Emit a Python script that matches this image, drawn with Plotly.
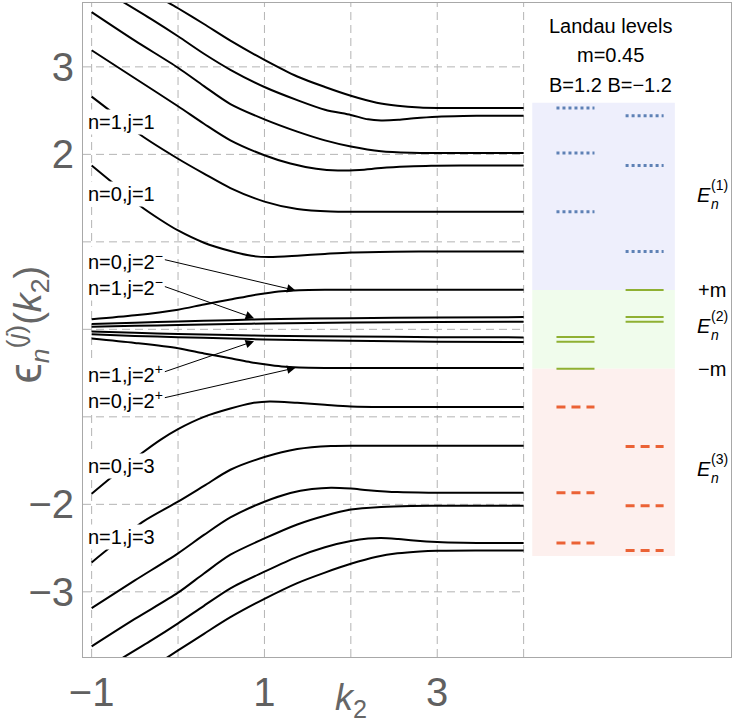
import plotly.graph_objects as go

# ---------------------------------------------------------------------------
# Dispersion branches eps_n^(j)(k2), sampled on k2 in [-1, 4]
# ---------------------------------------------------------------------------
# j = 1 band (upper branches, top to bottom)
k_u1 = [-0.14, 0.0, 0.3, 0.606, 1.0, 1.38, 1.7, 2.0, 2.3, 2.54, 2.8, 3.0, 3.5, 4.0]
e_u1 = [3.75, 3.67, 3.49, 3.30, 3.08, 2.89, 2.77, 2.67, 2.59, 2.555, 2.535, 2.53, 2.529, 2.529]

k_u2 = [-0.65, -0.3, 0.0, 0.3, 0.606, 1.0, 1.38, 1.7, 2.0, 2.2, 2.35, 2.55, 2.73, 3.0, 3.3, 3.6, 4.0]
e_u2 = [3.75, 3.54, 3.35, 3.15, 2.967, 2.77, 2.62, 2.51, 2.45, 2.40, 2.388, 2.395, 2.412, 2.43, 2.438, 2.441, 2.441]

k_u3 = [-1.0, -0.5, 0.0, 0.3, 0.606, 1.0, 1.38, 1.7, 2.0, 2.35, 2.7, 3.0, 4.0]
e_u3 = [3.626, 3.30, 2.99, 2.78, 2.575, 2.40, 2.26, 2.16, 2.09, 2.035, 2.018, 2.015, 2.015]

k_u4 = [-1.0, -0.5, 0.0, 0.3, 0.606, 1.0, 1.3, 1.6, 1.85, 2.1, 2.35, 2.65, 2.93, 3.3, 4.0]
e_u4 = [3.19, 2.87, 2.55, 2.35, 2.16, 1.99, 1.895, 1.835, 1.815, 1.822, 1.843, 1.86, 1.87, 1.873, 1.873]

# n=1, j=1
k_u5 = [-1.0, -0.75, -0.437, 0.0, 0.3, 0.606, 1.0, 1.38, 1.77, 2.2, 4.0]
e_u5 = [2.66, 2.47, 2.224, 1.95, 1.78, 1.615, 1.46, 1.375, 1.346, 1.344, 1.344]

# n=0, j=1
k_u6 = [-1.0, -0.75, -0.437, -0.2, 0.0, 0.3, 0.606, 0.85, 1.05, 1.38, 1.7, 2.0, 2.5, 3.0, 4.0]
e_u6 = [1.873, 1.67, 1.41, 1.25, 1.13, 0.99, 0.895, 0.840, 0.826, 0.841, 0.862, 0.879, 0.888, 0.89, 0.890]

# j = 2 band (near zero energy)
k_m0 = [-1.0, -0.5, 0.0, 0.3, 0.606, 0.84, 1.0, 1.2, 1.4, 1.7, 2.0, 4.0]
e_p0 = [0.115, 0.16, 0.225, 0.285, 0.34, 0.385, 0.41, 0.435, 0.447, 0.452, 0.453, 0.453]   # n=0, j=2-
e_n0 = [-0.105, -0.155, -0.215, -0.275, -0.33, -0.375, -0.40, -0.425, -0.437, -0.442, -0.443, -0.443]  # n=0, j=2+

k_m1 = [-1.0, -0.5, 0.0, 0.606, 1.0, 2.0, 3.0, 4.0]
e_p1 = [0.06, 0.075, 0.09, 0.105, 0.115, 0.128, 0.136, 0.14]          # n=1, j=2-
e_p2 = [0.03, 0.04, 0.05, 0.06, 0.067, 0.077, 0.084, 0.087]
e_n2 = [-0.025, -0.04, -0.052, -0.065, -0.072, -0.082, -0.089, -0.092]
e_n1 = [-0.055, -0.075, -0.09, -0.105, -0.115, -0.13, -0.141, -0.146]  # n=1, j=2+

# j = 3 band (lower branches)
k_l6 = [-1.0, -0.77, -0.417, -0.2, 0.0, 0.3, 0.606, 0.85, 1.06, 1.38, 1.7, 2.0, 2.5, 4.0]
e_l6 = [-1.879, -1.69, -1.414, -1.26, -1.14, -1.0, -0.905, -0.845, -0.824, -0.84, -0.862, -0.881, -0.888, -0.888]  # n=0, j=3

k_l5 = [-1.0, -0.77, -0.4, 0.0, 0.3, 0.606, 1.0, 1.38, 1.77, 2.2, 4.0]
e_l5 = [-2.664, -2.48, -2.195, -1.97, -1.79, -1.605, -1.46, -1.368, -1.333, -1.330, -1.330]  # n=1, j=3

k_l4 = [-1.0, -0.5, 0.0, 0.3, 0.606, 1.0, 1.3, 1.55, 1.77, 2.0, 2.2, 2.54, 2.9, 4.0]
e_l4 = [-3.186, -2.87, -2.56, -2.35, -2.15, -1.97, -1.87, -1.825, -1.81, -1.82, -1.838, -1.860, -1.867, -1.867]

k_l3 = [-1.0, -0.5, 0.0, 0.3, 0.606, 1.0, 1.38, 1.7, 2.0, 2.35, 2.7, 3.0, 4.0]
e_l3 = [-3.624, -3.31, -3.01, -2.79, -2.576, -2.39, -2.23, -2.13, -2.06, -2.03, -2.018, -2.016, -2.016]

k_l2 = [-0.65, -0.3, 0.0, 0.3, 0.606, 1.0, 1.38, 1.7, 2.0, 2.2, 2.35, 2.55, 2.73, 3.0, 3.3, 3.6, 4.0]
e_l2 = [-3.76, -3.55, -3.36, -3.16, -2.96, -2.77, -2.60, -2.49, -2.42, -2.392, -2.385, -2.397, -2.413, -2.43, -2.439, -2.443, -2.443]

k_l1 = [-0.14, 0.0, 0.3, 0.606, 1.0, 1.38, 1.7, 2.0, 2.3, 2.54, 2.8, 3.0, 3.5, 4.0]
e_l1 = [-3.76, -3.67, -3.48, -3.29, -3.08, -2.90, -2.78, -2.68, -2.60, -2.56, -2.538, -2.53, -2.527, -2.527]

branches = [
    (k_u1, e_u1), (k_u2, e_u2), (k_u3, e_u3), (k_u4, e_u4), (k_u5, e_u5), (k_u6, e_u6),
    (k_m0, e_p0), (k_m1, e_p1), (k_m1, e_p2), (k_m1, e_n2), (k_m1, e_n1), (k_m0, e_n0),
    (k_l6, e_l6), (k_l5, e_l5), (k_l4, e_l4), (k_l3, e_l3), (k_l2, e_l2), (k_l1, e_l1),
]

# ---------------------------------------------------------------------------
# Landau levels, m = 0.45, for B = 1.2 and B = -1.2
# ---------------------------------------------------------------------------
m = 0.45
E1_Bpos = [2.529, 2.015, 1.344]
E1_Bneg = [2.441, 1.873, 0.890]
E2_Bpos = [-0.088, -0.142, -m]
E2_Bneg = [m, 0.14, 0.087]
E3_Bpos = [-0.888, -1.867, -2.443]
E3_Bneg = [-1.338, -2.016, -2.527]
band_top = 2.59
band_bottom = -2.59

x_ticks = [-1, 1, 3]
x_ticktext = ["\u22121", "1", "3"]
y_ticks = [-3, -2, 2, 3]
y_ticktext = ["\u22123", "\u22122", "2", "3"]
x_grid = [-1, 0, 1, 2, 3, 4]
y_grid = [-3, -2, -1, 0, 1, 2, 3]

# layout constants
X_RANGE = [-1.1, 6.4]
Y_RANGE = [-3.745, 3.73]
K_MAX = 4.0
COL_BPOS = (4.38, 4.82)
COL_BNEG = (5.18, 5.62)
PANEL_X = (4.10, 5.75)
FONT = "Liberation Sans, Arial, DejaVu Sans"
BLUE = "#5E81B5"
GREEN = "#8FB032"
RED = "#EB6235"
AXIS_GREY = "#666666"

fig = go.Figure()

for k, e in branches:
    fig.add_trace(go.Scatter(x=k, y=e, mode="lines",
                             line=dict(color="black", width=2, shape="spline", smoothing=0.8),
                             hoverinfo="skip", showlegend=False))


def level_segments(levels, col):
    xs, ys = [], []
    for v in levels:
        xs += [col[0], col[1], None]
        ys += [v, v, None]
    return xs, ys


level_sets = [
    (E1_Bpos, COL_BPOS, dict(color=BLUE, width=3, dash="dot")),
    (E1_Bneg, COL_BNEG, dict(color=BLUE, width=3, dash="dot")),
    (E2_Bpos, COL_BPOS, dict(color=GREEN, width=2)),
    (E2_Bneg, COL_BNEG, dict(color=GREEN, width=2)),
    (E3_Bpos, COL_BPOS, dict(color=RED, width=3, dash="9px,6px")),
    (E3_Bneg, COL_BNEG, dict(color=RED, width=3, dash="9px,6px")),
]
for levels, col, style in level_sets:
    xs, ys = level_segments(levels, col)
    fig.add_trace(go.Scatter(x=xs, y=ys, mode="lines", line=style,
                             hoverinfo="skip", showlegend=False))

shapes = []
# shaded energy windows
for y0, y1, c in [(m, band_top, "#EEEFFC"), (-m, m, "#F0FCEC"), (band_bottom, -m, "#FDF0EE")]:
    shapes.append(dict(type="rect", xref="x", yref="y", x0=PANEL_X[0], x1=PANEL_X[1],
                       y0=y0, y1=y1, fillcolor=c, line=dict(width=0), layer="below"))
# dashed grid
grid_line = dict(color="#b4b4b4", width=1, dash="8px,5px")
for gx in x_grid:
    shapes.append(dict(type="line", xref="x", yref="y", x0=gx, x1=gx,
                       y0=Y_RANGE[0], y1=Y_RANGE[1], line=grid_line, layer="below"))
for gy in y_grid:
    shapes.append(dict(type="line", xref="x", yref="y", x0=X_RANGE[0], x1=K_MAX,
                       y0=gy, y1=gy, line=grid_line, layer="below"))

annotations = []
label_font = dict(family=FONT, size=20, color="black")
script_font = dict(family=FONT, size=14, color="black")

# branch labels
for text, yy in [("n=1,j=1", 2.37), ("n=0,j=1", 1.55),
                 ("n=0,j=2<sup>\u2212</sup>", 0.79), ("n=1,j=2<sup>\u2212</sup>", 0.49),
                 ("n=1,j=2<sup>+</sup>", -0.50), ("n=0,j=2<sup>+</sup>", -0.80),
                 ("n=0,j=3", -1.567), ("n=1,j=3", -2.378)]:
    annotations.append(dict(x=-1.06, y=yy, xref="x", yref="y", text=text, showarrow=False,
                            xanchor="left", yanchor="middle", font=label_font,
                            bgcolor="white", borderpad=1))

# arrows from labels to the j=2 branches
for tip_x, tip_y, tail_x, tail_y in [(1.36, 0.445, -0.17, 0.80), (0.88, 0.128, -0.17, 0.495),
                                     (0.88, -0.135, -0.17, -0.49), (1.36, -0.44, -0.17, -0.785)]:
    annotations.append(dict(x=tip_x, y=tip_y, ax=tail_x, ay=tail_y, xref="x", yref="y",
                            axref="x", ayref="y", text="", showarrow=True, arrowhead=2,
                            arrowsize=1.7, arrowwidth=1, arrowcolor="black", standoff=0))

# Landau level panel header
for text, yy in [("Landau levels", 3.47), ("m=0.45", 3.14), ("B=1.2 B=\u22121.2", 2.79)]:
    annotations.append(dict(x=5.0, y=yy, xref="x", yref="y", text=text, showarrow=False,
                            xanchor="center", yanchor="middle", font=label_font))

# right-hand labels: E_n^(i) with stacked sub/superscripts, and +m / -m
for idx, yy in [("1", 1.53), ("2", 0.04), ("3", -1.60)]:
    annotations.append(dict(x=5.99, y=yy, xref="x", yref="y", text="<i>E</i>",
                            showarrow=False, xanchor="left", yanchor="middle",
                            font=label_font, borderpad=0))
    annotations.append(dict(x=6.155, y=yy - 0.10, xref="x", yref="y", text="<i>n</i>",
                            showarrow=False, xanchor="left", yanchor="middle",
                            font=script_font, borderpad=0))
    annotations.append(dict(x=6.155, y=yy + 0.115, xref="x", yref="y", text="(" + idx + ")",
                            showarrow=False, xanchor="left", yanchor="middle",
                            font=script_font, borderpad=0))
for text, yy in [("+m", m), ("\u2212m", -m)]:
    annotations.append(dict(x=5.99, y=yy, xref="x", yref="y", text=text, showarrow=False,
                            xanchor="left", yanchor="middle", font=label_font))

# axis titles
annotations.append(dict(x=2.0, y=-0.066, xref="x", yref="paper",
                        text="<i>k</i><sub>2</sub>", showarrow=False,
                        xanchor="center", yanchor="middle", borderpad=0,
                        font=dict(family=FONT, size=36, color=AXIS_GREY)))
annotations.append(dict(x=-0.087, y=0.05, xref="paper", yref="y",
                        text="<span style=\"font-size:46px\">\u03f5</span>"
                             "<sub><i>n</i></sub><sup>(<i>j</i>)</sup>(<i>k</i><sub>2</sub>)",
                        showarrow=False, textangle=-90, xanchor="center", yanchor="middle",
                        font=dict(family=FONT, size=38, color=AXIS_GREY)))

axis_common = dict(showgrid=False, zeroline=False, showline=True, mirror=True,
                   linecolor="#a8a8a8", linewidth=1, ticks="",
                   tickfont=dict(family=FONT, size=40, color="#606060"))

fig.update_layout(
    width=733, height=725, autosize=False,
    margin=dict(l=83, r=2, t=3, b=68),
    paper_bgcolor="white", plot_bgcolor="white",
    xaxis=dict(range=X_RANGE, tickmode="array", tickvals=x_ticks, ticktext=x_ticktext,
               **axis_common),
    yaxis=dict(range=Y_RANGE, tickmode="array", tickvals=y_ticks, ticktext=y_ticktext,
               **axis_common),
    shapes=shapes, annotations=annotations,
)

fig.write_html("out.html")
